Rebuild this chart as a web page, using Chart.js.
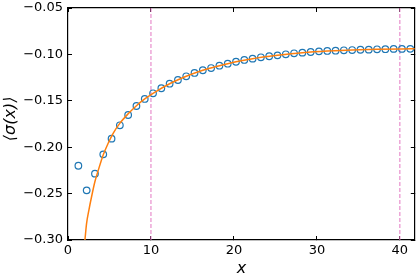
<!DOCTYPE html>
<html>
<head>
<meta charset="utf-8">
<script src="https://cdn.jsdelivr.net/npm/chart.js@4"></script>
<style>
  html, body { margin: 0; padding: 0; background: #fff; }
  #wrap { width: 420px; height: 280px; }
</style>
</head>
<body>
<div id="wrap"><canvas id="chart" width="420" height="280"></canvas></div>
<script>
// measured points <sigma(x)>
const xPoints = [1.25, 2.25, 3.25, 4.25, 5.25, 6.25, 7.25, 8.25, 9.25, 10.25,
  11.25, 12.25, 13.25, 14.25, 15.25, 16.25, 17.25, 18.25, 19.25, 20.25,
  21.25, 22.25, 23.25, 24.25, 25.25, 26.25, 27.25, 28.25, 29.25, 30.25,
  31.25, 32.25, 33.25, 34.25, 35.25, 36.25, 37.25, 38.25, 39.25, 40.25, 41.25];
const sigmaMean = [-0.220, -0.2465, -0.2285, -0.2077, -0.1908, -0.1764, -0.1653, -0.1556, -0.148, -0.1419,
  -0.1365, -0.1316, -0.1276, -0.1236, -0.120, -0.1171, -0.1147, -0.1122, -0.110, -0.1079,
  -0.106, -0.1046, -0.1031, -0.102, -0.101, -0.0999, -0.0988, -0.0981, -0.0974, -0.0967,
  -0.0963, -0.096, -0.0956, -0.0953, -0.095, -0.0949, -0.0945, -0.0944, -0.0941, -0.0941, -0.094];

// fitted curve
const fitX = [2.04, 2.24, 2.52, 2.84, 3.24, 3.72, 4.24, 4.84, 5.44, 6.24, 7.25, 8.25, 9.25, 10.25,
  12.25, 14.25, 16.25, 18.25, 20.25, 22.25, 25.25, 28.25, 31.25, 34.25, 37.25, 40.25, 41.8];
const fitY = [-0.300, -0.2821, -0.2677, -0.2534, -0.2372, -0.2228, -0.2084, -0.1958, -0.185, -0.1743, -0.1640, -0.1553, -0.148, -0.1419,
  -0.1316, -0.1236, -0.1171, -0.1122, -0.1079, -0.1046, -0.101, -0.0981, -0.0963, -0.0953, -0.0945, -0.0941, -0.094];

// window markers
const markerX = [10, 40];

const xTicks = [0, 10, 20, 30, 40];
const yTicks = [-0.30, -0.25, -0.20, -0.15, -0.10, -0.05];
const xMin = 0, xMax = 41.8;
const yMin = -0.30, yMax = -0.05;

const FONT = "'DejaVu Sans', sans-serif";

const pts = xPoints.map((x, i) => ({ x, y: sigmaMean[i] }));
const fit = fitX.map((x, i) => ({ x, y: fitY[i] }));

const markerSets = markerX.map(x => ({
  type: 'line',
  data: [{ x, y: yMin }, { x, y: yMax }],
  borderColor: '#e377c2',
  borderWidth: 1,
  borderDash: [4, 2],
  pointRadius: 0,
  order: 3,
}));

// inward ticks, matplotlib style
const inGrid = { display: true, drawOnChartArea: false, drawTicks: true, tickLength: -4, color: '#000', lineWidth: 1 };
const frameBorder = { display: true, color: '#000', width: 1.2 };

// fixed box sizes, no extra label padding in the layout
const fixBox = (w, h) => s => {
  if (w !== null) s.width = w;
  if (h !== null) s.height = h;
  s.paddingTop = 0; s.paddingBottom = 0; s.paddingLeft = 0; s.paddingRight = 0;
};

new Chart(document.getElementById('chart'), {
  type: 'scatter',
  data: {
    datasets: [
      {
        type: 'line',
        data: fit,
        borderColor: '#ff7f0e',
        borderWidth: 1.5,
        pointRadius: 0,
        cubicInterpolationMode: 'monotone',
        order: 1,
      },
      {
        data: pts,
        pointStyle: 'circle',
        pointRadius: 3.3,
        pointBorderWidth: 1.2,
        pointBorderColor: '#1f77b4',
        pointBackgroundColor: 'rgba(0,0,0,0)',
        order: 2,
      },
      ...markerSets,
    ]
  },
  options: {
    responsive: false,
    animation: false,
    devicePixelRatio: 1,
    layout: { padding: { top: 8, right: 4, left: 0, bottom: 0 } },
    plugins: { legend: { display: false }, tooltip: { enabled: false } },
    scales: {
      x: {
        type: 'linear',
        position: 'bottom',
        min: xMin,
        max: xMax,
        grid: inGrid,
        border: frameBorder,
        afterBuildTicks: s => { s.ticks = xTicks.map(v => ({ value: v })); },
        afterFit: fixBox(null, 40),
        ticks: {
          color: '#000',
          padding: 7,
          maxRotation: 0,
          font: { family: FONT, size: 13 },
        },
        title: {
          display: true,
          text: 'x',
          color: '#000',
          padding: { top: 0, bottom: 2 },
          font: { family: FONT, size: 16, style: 'italic' },
        },
      },
      x2: {
        type: 'linear',
        position: 'top',
        min: xMin,
        max: xMax,
        grid: inGrid,
        border: frameBorder,
        afterBuildTicks: s => { s.ticks = xTicks.map(v => ({ value: v })); },
        afterFit: fixBox(null, 0),
        ticks: { display: false },
      },
      y: {
        type: 'linear',
        position: 'left',
        min: yMin,
        max: yMax,
        grid: inGrid,
        border: frameBorder,
        afterBuildTicks: s => { s.ticks = yTicks.map(v => ({ value: v })); },
        afterFit: fixBox(68, null),
        ticks: {
          color: '#000',
          padding: 9,
          font: { family: FONT, size: 13 },
          callback: v => (v < 0 ? '\u2212' : '') + Math.abs(v).toFixed(2),
        },
        title: {
          display: true,
          text: '  \u27e8\u03c3(x)\u27e9',
          color: '#000',
          padding: { top: 1, bottom: 0 },
          font: { family: FONT, size: 16, style: 'italic' },
        },
      },
      y2: {
        type: 'linear',
        position: 'right',
        min: yMin,
        max: yMax,
        grid: inGrid,
        border: frameBorder,
        afterBuildTicks: s => { s.ticks = yTicks.map(v => ({ value: v })); },
        afterFit: fixBox(0, null),
        ticks: { display: false },
      },
    },
  },
});
</script>
</body>
</html>
